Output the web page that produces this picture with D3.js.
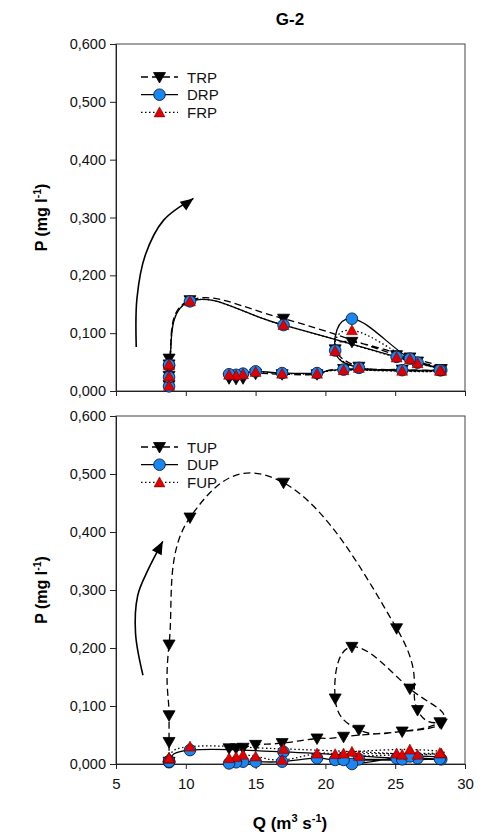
<!DOCTYPE html>
<html>
<head>
<meta charset="utf-8">
<script src="https://cdn.jsdelivr.net/npm/d3@7"></script>
<style>
  html, body { margin: 0; padding: 0; background: #fff; }
  svg { display: block; font-family: "Liberation Sans", Arial, sans-serif; }
</style>
</head>
<body>
<svg id="chart" width="483" height="836"></svg>
<script>
// Discharge (m3 s-1) of each sample, in sampling order
const Q = [8.8, 8.8, 8.8, 8.8, 10.3, 17.0, 25.1, 26.6, 28.3, 25.5, 22.4, 20.7, 21.9, 26.05, 28.2, 21.3, 19.4, 16.9, 15.0, 14.1, 13.6, 13.1];

// Reactive phosphorus (mg l-1)
const TRP = [0.010, 0.026, 0.046, 0.056, 0.157, 0.125, 0.062, 0.051, 0.038, 0.037, 0.042, 0.072, 0.085, 0.058, 0.037, 0.038, 0.029, 0.029, 0.030, 0.022, 0.021, 0.022];
const DRP = [0.008, 0.024, 0.044, 0.045, 0.155, 0.114, 0.059, 0.049, 0.036, 0.036, 0.040, 0.070, 0.125, 0.056, 0.036, 0.037, 0.031, 0.031, 0.034, 0.030, 0.028, 0.029];
const FRP = [0.009, 0.025, 0.044, 0.046, 0.155, 0.114, 0.058, 0.048, 0.035, 0.035, 0.040, 0.069, 0.105, 0.055, 0.035, 0.036, 0.030, 0.030, 0.033, 0.029, 0.027, 0.028];

// Unreactive phosphorus (mg l-1)
const TUP = [0.004, 0.038, 0.084, 0.206, 0.425, 0.485, 0.234, 0.093, 0.070, 0.056, 0.059, 0.113, 0.202, 0.130, 0.072, 0.047, 0.044, 0.036, 0.033, 0.028, 0.027, 0.027];
const DUP = [0.003, 0.004, 0.005, 0.004, 0.024, 0.021, 0.010, 0.010, 0.008, 0.008, 0.008, 0.007, 0.000, 0.013, 0.009, 0.007, 0.010, 0.004, 0.004, 0.004, 0.003, 0.001];
const FUP = [0.009, 0.010, 0.011, 0.010, 0.030, 0.026, 0.018, 0.016, 0.018, 0.016, 0.014, 0.017, 0.021, 0.025, 0.019, 0.018, 0.018, 0.007, 0.013, 0.016, 0.012, 0.010];

// Axis ticks
const xTicks = [5, 10, 15, 20, 25, 30];
const yTicks = [0, 0.1, 0.2, 0.3, 0.4, 0.5, 0.6];

// Hysteresis direction arrows, in data units (Q, P)
const arrowTop = [[6.45, 0.076], [6.5, 0.16], [7.1, 0.235], [8.4, 0.295], [10.55, 0.333]];
const arrowBottom = [[6.93, 0.153], [6.4, 0.225], [6.55, 0.29], [7.3, 0.335], [8.35, 0.384]];

const svg = d3.select("#chart");
const left = 116, right = 465;
const x = d3.scaleLinear().domain([5, 30]).range([left, right]);

const locale = d3.formatLocale({decimal: ",", thousands: ".", grouping: [3], currency: ["", ""]});
const fmtY = locale.format(".3f");

const BLUE = "#1a86f0", RED = "#e10000";

svg.append("text")
  .attr("x", 290).attr("y", 25)
  .attr("text-anchor", "middle")
  .attr("font-size", 17).attr("font-weight", "bold")
  .text("G-2");

function marker(g, type, cx, cy) {
  if (type === "down") {
    g.append("path")
      .attr("d", `M${cx - 6},${cy - 4.5}L${cx + 6},${cy - 4.5}L${cx},${cy + 6}Z`)
      .attr("fill", "#000").attr("stroke", "#000").attr("stroke-width", 0.8);
  } else if (type === "circle") {
    g.append("circle").attr("cx", cx).attr("cy", cy).attr("r", 5.8)
      .attr("fill", BLUE).attr("stroke", "#0a1e4a").attr("stroke-width", 0.9);
  } else {
    g.append("path")
      .attr("d", `M${cx - 5.5},${cy + 4.5}L${cx + 5.5},${cy + 4.5}L${cx},${cy - 5.5}Z`)
      .attr("fill", RED).attr("stroke", "#5a0000").attr("stroke-width", 0.5);
  }
}

function panel(top, bottom, series, names, showXLabels, arrowPts, legendY) {
  const y = d3.scaleLinear().domain([0, 0.6]).range([bottom, top]);
  const g = svg.append("g");

  // frame
  g.append("rect").attr("x", left).attr("y", top)
    .attr("width", right - left).attr("height", bottom - top)
    .attr("fill", "none").attr("stroke", "#444").attr("stroke-width", 1);

  // y axis
  const ya = g.append("g").attr("transform", `translate(${left},0)`)
    .call(d3.axisLeft(y).tickValues(yTicks).tickFormat(fmtY).tickSize(6).tickPadding(4));
  ya.select(".domain").attr("stroke", "#222");
  ya.selectAll("line").attr("stroke", "#222");
  ya.selectAll("text").attr("font-size", 14.5).attr("fill", "#111")
    .attr("font-family", "Liberation Sans, Arial, sans-serif");

  // x axis
  const xa = g.append("g").attr("transform", `translate(0,${bottom})`)
    .call(d3.axisBottom(x).tickValues(xTicks).tickSize(5).tickPadding(9)
      .tickFormat(showXLabels ? d3.format("d") : () => ""));
  xa.select(".domain").attr("stroke", "#222");
  xa.selectAll("line").attr("stroke", "#222");
  xa.selectAll("text").attr("font-size", 15).attr("fill", "#111")
    .attr("font-family", "Liberation Sans, Arial, sans-serif");

  // y title
  const yt = g.append("text")
    .attr("transform", `translate(47,${(top + bottom) / 2}) rotate(-90)`)
    .attr("text-anchor", "middle").attr("font-size", 16).attr("font-weight", "bold");
  yt.append("tspan").text("P (mg l");
  yt.append("tspan").attr("dy", -6).attr("font-size", 10.5).text("-1");
  yt.append("tspan").attr("dy", 6).text(")");

  // curves
  const styles = [
    {dash: "7,4", type: "down"},
    {dash: null, type: "circle"},
    {dash: "1.5,2.5", type: "up"}
  ];
  const line = d3.line().x(d => x(d[0])).y(d => y(d[1])).curve(d3.curveCardinal.tension(-0.3));
  series.forEach((s, i) => {
    const pts = Q.map((q, j) => [q, s[j]]);
    g.append("path").attr("d", line(pts)).attr("fill", "none")
      .attr("stroke", "#000").attr("stroke-width", 1.3)
      .attr("stroke-dasharray", styles[i].dash);
  });
  series.forEach((s, i) => {
    const mg = g.append("g");
    Q.forEach((q, j) => marker(mg, styles[i].type, x(q), y(s[j])));
  });

  // direction arrow
  const aline = d3.line().x(d => x(d[0])).y(d => y(d[1])).curve(d3.curveCatmullRom);
  g.append("path").attr("d", aline(arrowPts)).attr("fill", "none")
    .attr("stroke", "#000").attr("stroke-width", 1.6);
  const n = arrowPts.length;
  const tip = [x(arrowPts[n - 1][0]), y(arrowPts[n - 1][1])];
  const prev = [x(arrowPts[n - 2][0]), y(arrowPts[n - 2][1])];
  const ang = Math.atan2(tip[1] - prev[1], tip[0] - prev[0]) * 180 / Math.PI;
  g.append("path").attr("d", "M0,0L-13,-5.5L-13,5.5Z")
    .attr("transform", `translate(${tip[0]},${tip[1]}) rotate(${ang})`)
    .attr("fill", "#000");

  // legend
  const lg = g.append("g");
  names.forEach((nm, i) => {
    const ly = legendY + i * 17.7;
    lg.append("line").attr("x1", 141).attr("x2", 178).attr("y1", ly).attr("y2", ly)
      .attr("stroke", "#000").attr("stroke-width", 1.3)
      .attr("stroke-dasharray", styles[i].dash);
    marker(lg, styles[i].type, 159.5, ly);
    lg.append("text").attr("x", 187).attr("y", ly + 5.5)
      .attr("font-size", 15).attr("fill", "#111").text(nm);
  });
}

panel(44, 391, [TRP, DRP, FRP], ["TRP", "DRP", "FRP"], false, arrowTop, 77);
panel(416, 764, [TUP, DUP, FUP], ["TUP", "DUP", "FUP"], true, arrowBottom, 447);

// x title
const xt = svg.append("text").attr("x", 290).attr("y", 829)
  .attr("text-anchor", "middle").attr("font-size", 17).attr("font-weight", "bold");
xt.append("tspan").text("Q (m");
xt.append("tspan").attr("dy", -7).attr("font-size", 11).text("3");
xt.append("tspan").attr("dy", 7).text(" s");
xt.append("tspan").attr("dy", -7).attr("font-size", 11).text("-1");
xt.append("tspan").attr("dy", 7).text(")");
</script>
</body>
</html>
